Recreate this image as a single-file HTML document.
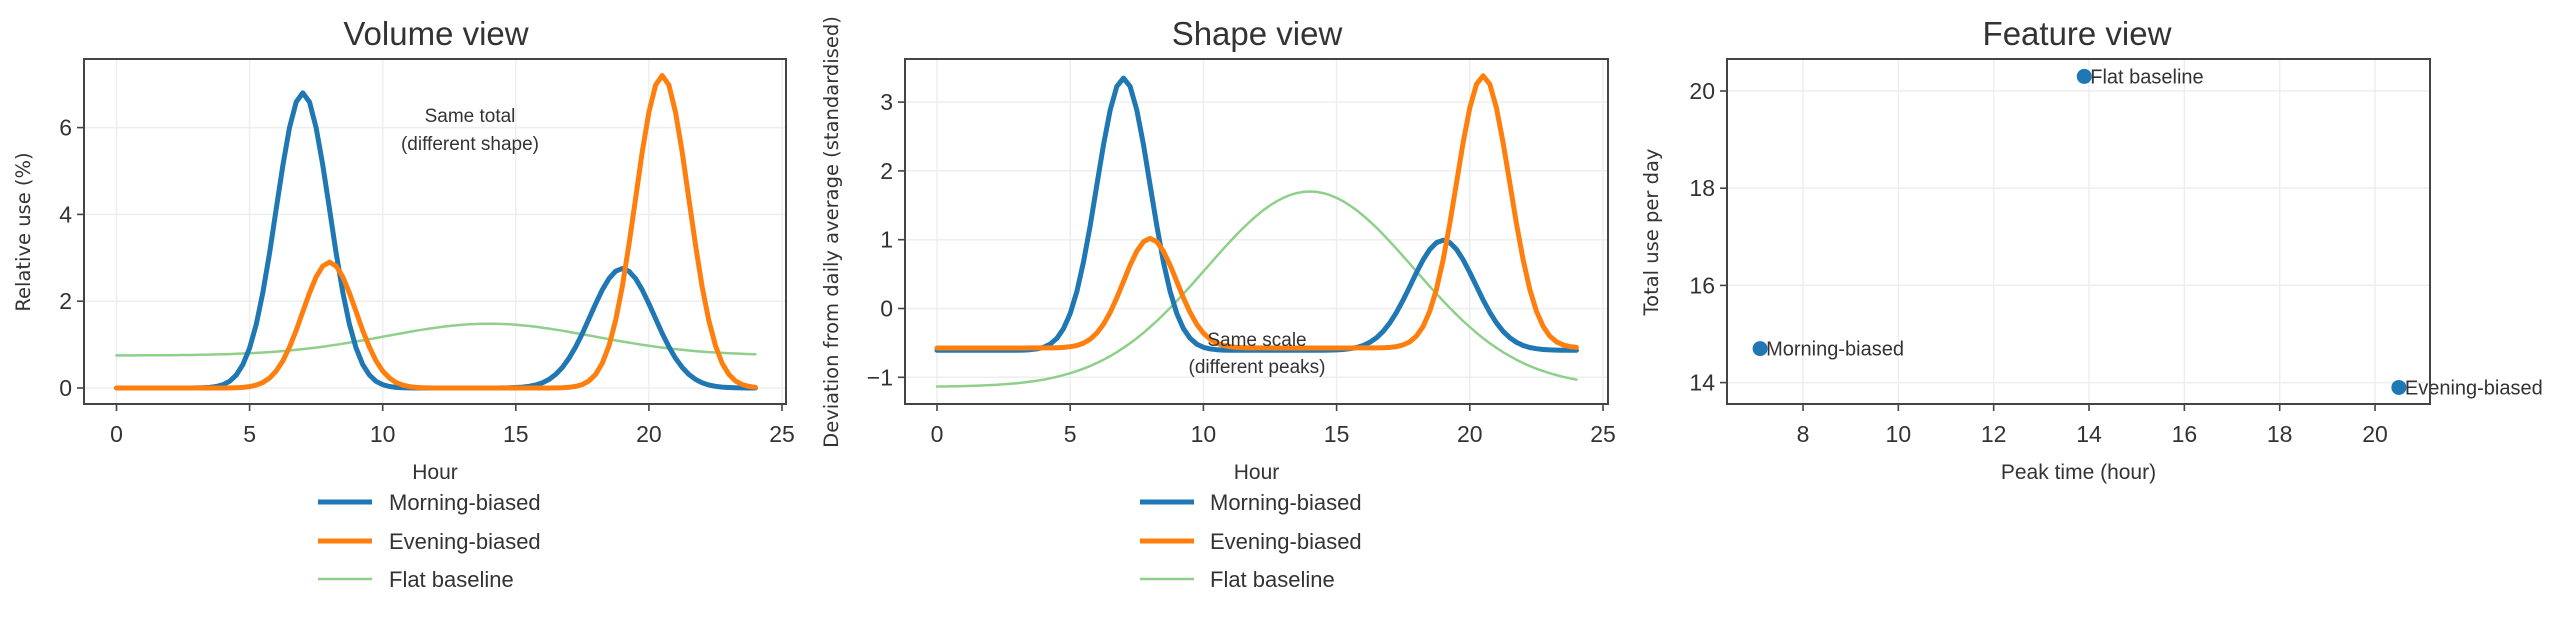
<!DOCTYPE html>
<html><head><meta charset="utf-8"><style>
html,body{margin:0;padding:0;background:#fff;}
svg{display:block;}
text{font-family:"Liberation Sans Narrow","Liberation Sans",sans-serif;fill:#333;}
.yl{font-family:"DejaVu Sans","Liberation Sans",sans-serif;font-size:19.5px;fill:#333;}
</style></head><body>
<svg id="s" width="2560" height="621" xmlns="http://www.w3.org/2000/svg"></svg>
<script>
const S=document.getElementById('s');let h='';
const g=(x,m,s)=>Math.exp(-(x-m)*(x-m)/(2*s*s));
const xs=[];for(let i=0;i<=96;i++)xs.push(i/4);
const mor=x=>6.8*g(x,7,1.0)+2.75*g(x,19,1.2);
const eve=x=>2.9*g(x,8,1.0)+7.2*g(x,20.5,1.0);
const fla=x=>0.75+0.73*g(x,14,3.9);
function stdz(f){const v=xs.map(f);const m=v.reduce((a,b)=>a+b)/v.length;const sd=Math.sqrt(v.reduce((a,b)=>a+(b-m)*(b-m),0)/v.length);return v.map(y=>(y-m)/sd);}
function path(vals,X,Y,col,w){return `<path d="${vals.map((v,i)=>(i?'L':'M')+X(xs[i]).toFixed(1)+' '+Y(v).toFixed(1)).join('')}" fill="none" stroke="${col}" stroke-width="${w}" stroke-linejoin="round" stroke-linecap="round"/>`;}
const B='#1f77b4',O='#ff7f0e',G='#8ed08a';
function axes(L,R,T,Bt,X,Y,xt,yt){
 let o='';
 xt.forEach(v=>{o+=`<line x1="${X(v)}" x2="${X(v)}" y1="${T}" y2="${Bt}" stroke="#eee" stroke-width="1.5"/>`;});
 yt.forEach(v=>{o+=`<line x1="${L}" x2="${R}" y1="${Y(v)}" y2="${Y(v)}" stroke="#eee" stroke-width="1.5"/>`;});
 return o;}
function frame(L,R,T,Bt,X,Y,xt,yt,title,tx,ylab,ylx,xlab){
 let o=`<rect x="${L}" y="${T}" width="${R-L}" height="${Bt-T}" fill="none" stroke="#444" stroke-width="2"/>`;
 xt.forEach(v=>{o+=`<line x1="${X(v)}" x2="${X(v)}" y1="${Bt}" y2="${Bt+7}" stroke="#444" stroke-width="1.6"/><text x="${X(v)}" y="442" font-size="23" text-anchor="middle">${v}</text>`;});
 yt.forEach(v=>{o+=`<line x1="${L}" x2="${L-7}" y1="${Y(v)}" y2="${Y(v)}" stroke="#444" stroke-width="1.6"/><text x="${L-12}" y="${Y(v)+8}" font-size="23" text-anchor="end">${v<0?'−'+(-v):v}</text>`;});
 o+=`<text x="${tx}" y="45" font-size="33" text-anchor="middle">${title}</text>`;
 o+=`<text class="yl" transform="translate(${ylx},232) rotate(-90)" text-anchor="middle">${ylab}</text>`;
 o+=`<text x="${(L+R)/2}" y="479" font-size="21" text-anchor="middle">${xlab}</text>`;
 return o;}
function legend(x0,tx){return `<line x1="${x0}" x2="${x0+54}" y1="502" y2="502" stroke="${B}" stroke-width="5"/><text x="${tx}" y="510" font-size="22">Morning-biased</text>
<line x1="${x0}" x2="${x0+54}" y1="541" y2="541" stroke="${O}" stroke-width="5"/><text x="${tx}" y="549" font-size="22">Evening-biased</text>
<line x1="${x0}" x2="${x0+54}" y1="579" y2="579" stroke="${G}" stroke-width="2.5"/><text x="${tx}" y="587" font-size="22">Flat baseline</text>`;}
{const L=84,R=786,T=59,Bt=404;const X=x=>116.5+x*26.62,Y=y=>388-y*43.4;
 const xt=[0,5,10,15,20,25],yt=[0,2,4,6];
 h+=axes(L,R,T,Bt,X,Y,xt,yt);
 h+=path(xs.map(fla),X,Y,G,2.5)+path(xs.map(mor),X,Y,B,5)+path(xs.map(eve),X,Y,O,5);
 h+=`<text x="470" y="122" font-size="19" text-anchor="middle">Same total</text><text x="470" y="150" font-size="19" text-anchor="middle">(different shape)</text>`;
 h+=frame(L,R,T,Bt,X,Y,xt,yt,'Volume view',436,'Relative use (%)',30,'Hour');
 h+=legend(318,389);}
{const L=905,R=1608,T=59,Bt=404;const X=x=>937+x*26.64,Y=y=>308.5-y*68.8;
 const xt=[0,5,10,15,20,25],yt=[-1,0,1,2,3];
 h+=axes(L,R,T,Bt,X,Y,xt,yt);
 h+=path(stdz(fla),X,Y,G,2.5)+path(stdz(mor),X,Y,B,5)+path(stdz(eve),X,Y,O,5);
 h+=`<text x="1257" y="346" font-size="19" text-anchor="middle">Same scale</text><text x="1257" y="373" font-size="19" text-anchor="middle">(different peaks)</text>`;
 h+=frame(L,R,T,Bt,X,Y,xt,yt,'Shape view',1257,'Deviation from daily average (standardised)',838,'Hour');
 h+=legend(1140,1210);}
{const L=1727,R=2430,T=59,Bt=404;const X=x=>1803+(x-8)*47.67,Y=y=>91+(20-y)*48.6;
 const xt=[8,10,12,14,16,18,20],yt=[14,16,18,20];
 h+=axes(L,R,T,Bt,X,Y,xt,yt);
 [[13.9,20.3,'Flat baseline'],[7.1,14.7,'Morning-biased'],[20.5,13.9,'Evening-biased']].forEach(p=>{
  h+=`<circle cx="${X(p[0])}" cy="${Y(p[1])}" r="7.5" fill="${B}"/><text x="${X(p[0])+6}" y="${Y(p[1])+7}" font-size="20">${p[2]}</text>`;});
 h+=frame(L,R,T,Bt,X,Y,xt,yt,'Feature view',2077,'Total use per day',1658,'Peak time (hour)');}
S.innerHTML=h;
</script>
</body></html>
